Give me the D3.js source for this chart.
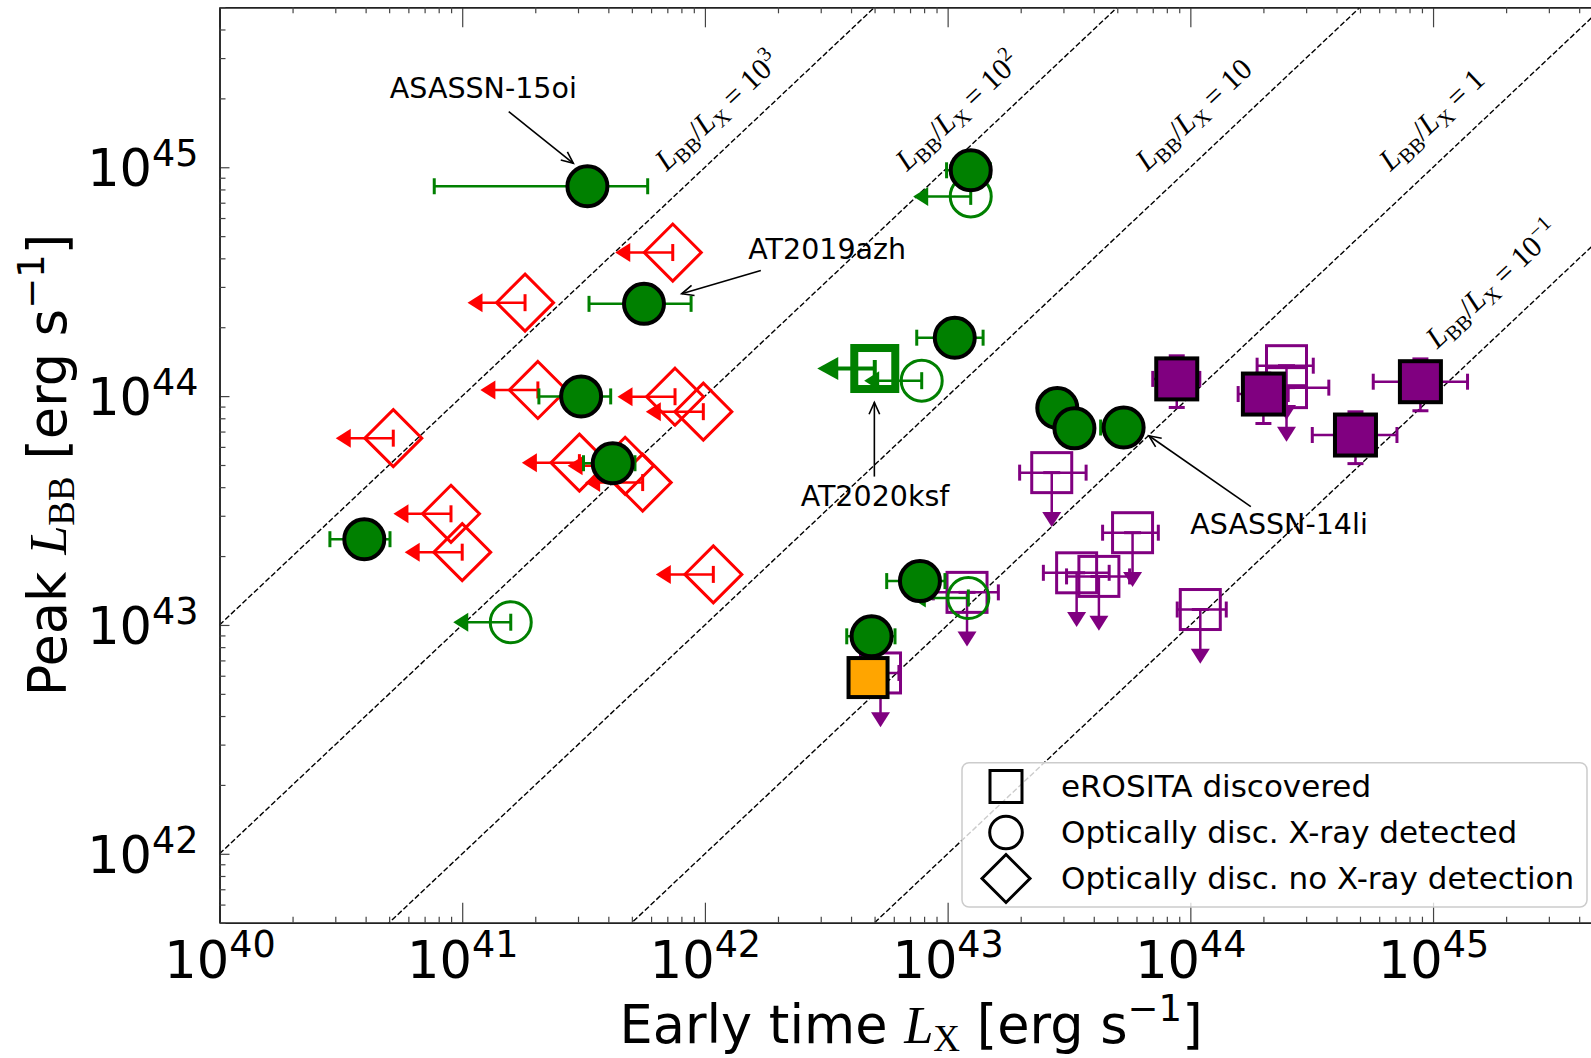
<!DOCTYPE html>
<html><head><meta charset="utf-8">
<script src="https://cdn.jsdelivr.net/npm/d3@7"></script>
<style>body{margin:0;background:#fff} svg{display:block;font-family:"DejaVu Sans",sans-serif}</style>
</head><body><svg id="c" width="1591" height="1058"></svg>
<script>
// ---------------- DATA ----------------
// Optically discovered, X-ray detected (filled green circles)
const optDetLx   = [3.28e41, 5.61e41, 3.09e41, 4.17e41, 3.95e40, 1.245e43, 1.07e43, 2.83e43, 3.33e43, 5.31e43, 7.69e42, 4.86e42];
const optDetLbb  = [8.26e44, 2.53e44, 9.97e43, 5.09e43, 2.37e43, 9.70e44, 1.80e44, 8.87e43, 7.23e43, 7.29e43, 1.555e43, 8.92e42];
const optDetLxLo = [7.67e40, 3.33e41, 2.07e41, 3.16e41, 2.85e40, 9.9e42, 7.46e42, 2.65e43, 3.1e43, 4.27e43, 5.61e42, 3.84e42];
const optDetLxHi = [5.81e41, 8.77e41, 4.09e41, 5.15e41, 5.04e40, 1.5e43, 1.40e43, 3.0e43, 3.55e43, 6.3e43, 9.75e42, 6.07e42];
// Optically discovered, X-ray upper limits (open green circles)
const optUlLx  = [1.245e43, 7.82e42, 1.585e41, 1.217e43];
const optUlLbb = [7.46e44, 1.168e44, 1.028e43, 1.312e43];
// AT2020ksf (open green square, X-ray upper limit)
const ksfLx  = [5.01e42];
const ksfLbb = [1.32e44];
// Optically discovered, no X-ray detection (red diamonds, upper limits)
const noXLx  = [7.37e41, 1.815e41, 2.05e41, 7.53e41, 9.85e41, 5.20e40, 3.04e41, 4.69e41, 5.54e41, 8.99e40, 1.0e41, 1.083e42];
const noXLbb = [4.24e44, 2.56e44, 1.064e44, 9.94e43, 8.55e43, 6.55e43, 5.12e43, 4.96e43, 4.19e43, 3.06e43, 2.08e43, 1.663e43];
// eROSITA discovered with L_BB measurement (filled purple squares)
const eroDetLx    = [8.79e43, 2.0e44, 4.79e44, 8.87e44];
const eroDetLbb   = [1.189e44, 1.021e44, 6.76e43, 1.156e44];
const eroDetLxLo  = [7.0e43, 1.574e44, 3.18e44, 5.67e44];
const eroDetLxHi  = [1.094e44, 2.53e44, 7.10e44, 1.387e45];
const eroDetLbbLo = [8.92e43, 7.59e43, 5.07e43, 8.63e43];
const eroDetLbbHi = [1.50e44, 1.26e44, 8.54e43, 1.454e44];
// eROSITA discovered (orange)
const eroOrLx  = [4.70e42];
const eroOrLbb = [5.89e42];
// eROSITA discovered with L_BB upper limits (open purple squares)
const eroUlLx   = [2.685e43, 5.78e43, 3.40e43, 4.20e43, 1.099e44, 2.49e44, 2.49e44, 5.29e42, 1.202e43];
const eroUlLbb  = [4.63e43, 2.53e43, 1.69e43, 1.63e43, 1.168e43, 1.358e44, 1.089e44, 6.17e42, 1.388e43];
const eroUlLxLo = [1.98e43, 4.35e43, 2.48e43, 3.09e43, 8.83e43, 1.884e44, 1.66e44, 4.17e42, 8.73e42];
const eroUlLxHi = [3.72e43, 7.38e43, 4.63e43, 5.62e43, 1.406e44, 3.21e44, 3.72e44, 6.3e42, 1.618e43];
// Upper-limit arrow length (dex)
const limitDex = 0.237;
// Ratio lines L_BB / L_X
const ratios      = [1e3, 1e2, 10, 1, 0.1];
const ratioBase   = ["10", "10", "10", "1", "10"];
const ratioExp    = ["3", "2", "", "", "\u22121"];
const ratioLabLx  = [6.95e41, 6.8e42, 6.63e43, 6.68e44, 1.04e45];
const ratioLabLbb = [9.53e44, 9.53e44, 9.53e44, 9.53e44, 1.60e44];
// Annotations
const annLabels  = ["ASASSN-15oi", "AT2019azh", "AT2020ksf", "ASASSN-14li"];
const annTextLx  = [1.222e41, 3.19e42, 5.02e42, 2.32e44];
const annTextLbb = [2.0e45, 3.99e44, 3.31e43, 2.49e43];
const annTailLx  = [1.555e41, 1.70e42, 4.99e42, 1.775e44];
const annTailLbb = [1.75e45, 3.54e44, 4.45e43, 3.29e43];
const annHeadLx  = [2.87e41, 8.02e41, 4.99e42, 6.75e43];
const annHeadLbb = [1.04e45, 2.80e44, 9.39e43, 6.71e43];
// Ticks
const xTickVals = [1e40, 1e41, 1e42, 1e43, 1e44, 1e45];
const xTickExp  = ["40", "41", "42", "43", "44", "45"];
const yTickVals = [1e42, 1e43, 1e44, 1e45];
const yTickExp  = ["42", "43", "44", "45"];
// Legend
const legendLabels = ["eROSITA discovered", "Optically disc. X-ray detected", "Optically disc. no X-ray detection"];
const legendShapes = ["square", "circle", "diamond"];

// ---------------- CHART ----------------
const G = "#008000", R = "#ff0000", P = "#800080", O = "#ffa500";
const SERIF = "'Liberation Serif','Times New Roman',serif";
const svg = d3.select("#c");
const x = d3.scaleLog().domain([1e40, 5e45]).range([219.5, 1602.7]);
const y = d3.scaleLog().domain([5e41, 5e45]).range([922.7, 7.3]);
const [X0, X1] = x.range(), [Y0, Y1] = y.range();

svg.append("defs").append("clipPath").attr("id", "clip")
  .append("rect").attr("x", X0).attr("y", Y1).attr("width", X1 - X0).attr("height", Y0 - Y1);

function minorTicks(sc) {
  const [a, b] = sc.domain(); const out = [];
  for (let e = Math.floor(Math.log10(a)); e <= Math.ceil(Math.log10(b)); e++)
    for (let m = 2; m <= 9; m++) { const v = m * Math.pow(10, e); if (v >= a && v <= b) out.push(v); }
  return out;
}

// Ratio lines
const lineG = svg.append("g").attr("clip-path", "url(#clip)");
const xd = x.domain();
ratios.forEach(k => {
  lineG.append("line")
    .attr("x1", x(xd[0])).attr("y1", y(k * xd[0]))
    .attr("x2", x(xd[1])).attr("y2", y(k * xd[1]))
    .attr("stroke", "#000").attr("stroke-width", 1.4).attr("stroke-dasharray", "5.5,2.4");
});
const angle = Math.atan2(y(1e44) - y(1e43), x(1e44) - x(1e43)) * 180 / Math.PI;
ratios.forEach((k, i) => {
  const t = svg.append("text")
    .attr("transform", `translate(${x(ratioLabLx[i])},${y(ratioLabLbb[i])}) rotate(${angle})`)
    .attr("font-family", SERIF).attr("font-size", 30).attr("fill", "#000");
  t.append("tspan").attr("font-style", "italic").text("L");
  t.append("tspan").attr("font-size", 21).attr("dy", 6).text("BB");
  t.append("tspan").attr("dy", -6).text("/");
  t.append("tspan").attr("font-style", "italic").text("L");
  t.append("tspan").attr("font-size", 21).attr("dy", 6).text("X");
  t.append("tspan").attr("dy", -6).text(" = " + ratioBase[i]);
  if (ratioExp[i]) t.append("tspan").attr("font-size", 21).attr("dy", -12).text(ratioExp[i]);
});

// Axes
function styleAxis(g) {
  g.selectAll(".domain").attr("stroke", "#222").attr("stroke-width", 1.5);
  g.selectAll(".tick line").attr("stroke", "#444").attr("stroke-width", 1.2);
  g.selectAll(".tick text").remove();
}
const axB = svg.append("g").attr("transform", `translate(0,${Y0})`)
  .call(d3.axisBottom(x).tickValues(xTickVals).tickSize(-20).tickSizeOuter(0).tickFormat(() => ""));
svg.append("g").attr("transform", `translate(0,${Y0})`)
  .call(d3.axisBottom(x).tickValues(minorTicks(x)).tickSize(-6).tickSizeOuter(0).tickFormat(() => "")).call(styleAxis);
styleAxis(axB);
svg.append("g").attr("transform", `translate(0,${Y1})`)
  .call(d3.axisTop(x).tickValues(xTickVals).tickSize(-20).tickSizeOuter(0).tickFormat(() => "")).call(styleAxis);
svg.append("g").attr("transform", `translate(0,${Y1})`)
  .call(d3.axisTop(x).tickValues(minorTicks(x)).tickSize(-6).tickSizeOuter(0).tickFormat(() => "")).call(styleAxis);
const axL = svg.append("g").attr("transform", `translate(${X0},0)`)
  .call(d3.axisLeft(y).tickValues(yTickVals).tickSize(-10).tickSizeOuter(0).tickFormat(() => "")).call(styleAxis);
svg.append("g").attr("transform", `translate(${X0},0)`)
  .call(d3.axisLeft(y).tickValues(minorTicks(y)).tickSize(-6).tickSizeOuter(0).tickFormat(() => "")).call(styleAxis);

axB.selectAll(".tick").each(function (d, i) {
  const t = d3.select(this).append("text").attr("y", 55.6).attr("text-anchor", "middle")
    .attr("font-family", "DejaVu Sans").attr("font-size", 51).attr("fill", "#000");
  t.append("tspan").text("10");
  t.append("tspan").attr("font-size", 36.5).attr("dy", -21).text(xTickExp[i]);
});
axL.selectAll(".tick").each(function (d, i) {
  const t = d3.select(this).append("text").attr("x", -21).attr("y", 18.3).attr("text-anchor", "end")
    .attr("font-family", "DejaVu Sans").attr("font-size", 51).attr("fill", "#000");
  t.append("tspan").text("10");
  t.append("tspan").attr("font-size", 36.5).attr("dy", -20).text(yTickExp[i]);
});

// Axis titles
{
  const t = svg.append("text").attr("x", (X0 + X1) / 2).attr("y", 1043).attr("text-anchor", "middle")
    .attr("font-size", 52.5).attr("fill", "#000");
  t.append("tspan").text("Early time ");
  t.append("tspan").attr("font-family", SERIF).attr("font-style", "italic").text("L");
  t.append("tspan").attr("font-family", SERIF).attr("font-size", 37).attr("dy", 8).text("X");
  t.append("tspan").attr("dy", -8).text(" [erg s");
  t.append("tspan").attr("font-size", 37).attr("dy", -22).text("\u22121");
  t.append("tspan").attr("dy", 22).text("]");
}
{
  const t = svg.append("text").attr("transform", `translate(66,${(Y0 + Y1) / 2}) rotate(-90)`)
    .attr("text-anchor", "middle").attr("font-size", 52.5).attr("fill", "#000");
  t.append("tspan").text("Peak ");
  t.append("tspan").attr("font-family", SERIF).attr("font-style", "italic").text("L");
  t.append("tspan").attr("font-family", SERIF).attr("font-size", 37).attr("dy", 8).text("BB");
  t.append("tspan").attr("dy", -8).text(" [erg s");
  t.append("tspan").attr("font-size", 37).attr("dy", -22).text("\u22121");
  t.append("tspan").attr("dy", 22).text("]");
}

// Marker helpers
const marks = svg.append("g");
function sq(g, cx, cy, s, fill, stroke, sw) {
  g.append("rect").attr("x", cx - s / 2).attr("y", cy - s / 2).attr("width", s).attr("height", s)
    .attr("fill", fill).attr("stroke", stroke).attr("stroke-width", sw);
}
function circ(g, cx, cy, r, fill, stroke, sw) {
  g.append("circle").attr("cx", cx).attr("cy", cy).attr("r", r).attr("fill", fill).attr("stroke", stroke).attr("stroke-width", sw);
}
function diam(g, cx, cy, h, fill, stroke, sw) {
  g.append("path").attr("d", `M${cx},${cy - h}L${cx + h},${cy}L${cx},${cy + h}L${cx - h},${cy}Z`)
    .attr("fill", fill).attr("stroke", stroke).attr("stroke-width", sw);
}
function seg(g, x1, y1, x2, y2, c, w) {
  g.append("line").attr("x1", x1).attr("y1", y1).attr("x2", x2).attr("y2", y2).attr("stroke", c).attr("stroke-width", w);
}
function xErr(g, lo, hi, v, c, cap) {
  const cy = y(v);
  seg(g, x(lo), cy, x(hi), cy, c, 2.5);
  seg(g, x(lo), cy - cap, x(lo), cy + cap, c, 3);
  seg(g, x(hi), cy - cap, x(hi), cy + cap, c, 3);
}
function yErr(g, lo, hi, v, c, cap) {
  const cx = x(v);
  seg(g, cx, y(lo), cx, y(hi), c, 2.5);
  seg(g, cx - cap, y(lo), cx + cap, y(lo), c, 3);
  seg(g, cx - cap, y(hi), cx + cap, y(hi), c, 3);
}
function xLimit(g, lx, lbb, c, big) {
  const cx = x(lx), cy = y(lbb), tip = x(lx / Math.pow(10, limitDex));
  const hl = big ? 21 : 15, hw = big ? 11.5 : 9.5, lw = big ? 4 : 2.5;
  seg(g, cx, cy, tip + hl - 1, cy, c, lw);
  g.append("path").attr("d", `M${tip},${cy}L${tip + hl},${cy - hw}L${tip + hl},${cy + hw}Z`).attr("fill", c);
  seg(g, cx, cy - 8.5, cx, cy + 8.5, c, big ? 4 : 3);
}
function yLimit(g, lx, lbb, c) {
  const cx = x(lx), cy = y(lbb), tip = y(lbb / Math.pow(10, limitDex));
  seg(g, cx, cy, cx, tip - 14, c, 2.5);
  g.append("path").attr("d", `M${cx},${tip}L${cx - 9.5},${tip - 15}L${cx + 9.5},${tip - 15}Z`).attr("fill", c);
  seg(g, cx - 8.5, cy, cx + 8.5, cy, c, 3);
}

// Red diamonds
noXLx.forEach((v, i) => { xLimit(marks, v, noXLbb[i], R); diam(marks, x(v), y(noXLbb[i]), 28.5, "none", R, 3); });
// Open purple squares
eroUlLx.forEach((v, i) => {
  xErr(marks, eroUlLxLo[i], eroUlLxHi[i], eroUlLbb[i], P, 8);
  yLimit(marks, v, eroUlLbb[i], P);
  sq(marks, x(v), y(eroUlLbb[i]), 40, "none", P, 3);
});
// Filled purple squares
eroDetLx.forEach((v, i) => {
  xErr(marks, eroDetLxLo[i], eroDetLxHi[i], eroDetLbb[i], P, 8);
  yErr(marks, eroDetLbbLo[i], eroDetLbbHi[i], v, P, 8);
  sq(marks, x(v), y(eroDetLbb[i]), 41, P, "#000", 4);
});
// Orange square
eroOrLx.forEach((v, i) => sq(marks, x(v), y(eroOrLbb[i]), 39, O, "#000", 4));
// AT2020ksf open green square
ksfLx.forEach((v, i) => { xLimit(marks, v, ksfLbb[i], G, true); sq(marks, x(v), y(ksfLbb[i]), 41, "none", G, 8); });
// Open green circles
optUlLx.forEach((v, i) => { xLimit(marks, v, optUlLbb[i], G); circ(marks, x(v), y(optUlLbb[i]), 20.5, "none", G, 3); });
// Filled green circles
optDetLx.forEach((v, i) => {
  xErr(marks, optDetLxLo[i], optDetLxHi[i], optDetLbb[i], G, 8);
  circ(marks, x(v), y(optDetLbb[i]), 20, G, "#000", 4);
});

// Annotations
annLabels.forEach((lab, i) => {
  svg.append("text").attr("x", x(annTextLx[i])).attr("y", y(annTextLbb[i])).attr("text-anchor", "middle")
    .attr("font-size", 28.5).attr("fill", "#000").text(lab);
  const x1 = x(annTailLx[i]), y1 = y(annTailLbb[i]), x2 = x(annHeadLx[i]), y2 = y(annHeadLbb[i]);
  seg(svg, x1, y1, x2, y2, "#000", 1.6);
  const a = Math.atan2(y1 - y2, x1 - x2), L = 13, sp = 0.42;
  svg.append("path").attr("d", `M${x2 + L * Math.cos(a + sp)},${y2 + L * Math.sin(a + sp)}L${x2},${y2}L${x2 + L * Math.cos(a - sp)},${y2 + L * Math.sin(a - sp)}`)
    .attr("fill", "none").attr("stroke", "#000").attr("stroke-width", 1.6);
});

// Legend
{
  const lg = svg.append("g");
  lg.append("rect").attr("x", 962).attr("y", 762.7).attr("width", 625).attr("height", 144.3).attr("rx", 7)
    .attr("fill", "#fff").attr("fill-opacity", 0.8).attr("stroke", "#cccccc").attr("stroke-width", 1.5);
  legendLabels.forEach((lab, i) => {
    const cy = 786.5 + i * 46, cx = 1006;
    if (legendShapes[i] === "square") sq(lg, cx, cy, 32, "none", "#000", 3);
    if (legendShapes[i] === "circle") circ(lg, cx, cy, 16.3, "none", "#000", 3);
    if (legendShapes[i] === "diamond") diam(lg, cx, cy, 24, "none", "#000", 3);
    lg.append("text").attr("x", 1061).attr("y", cy + 10.8).attr("font-size", 31).attr("fill", "#000").text(lab);
  });
}
</script></body></html>
